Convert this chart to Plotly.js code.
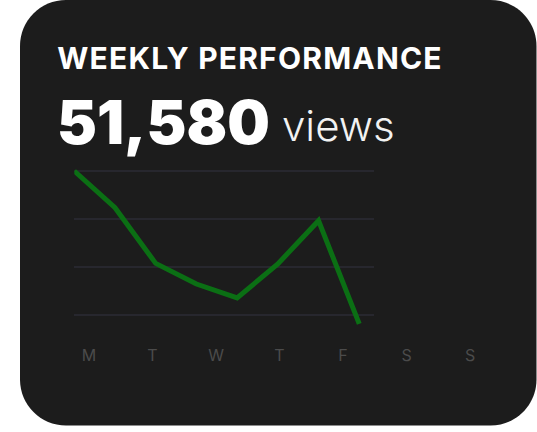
<!DOCTYPE html>
<html>
<head>
<meta charset="utf-8">
<script src="https://cdn.plot.ly/plotly-3.0.1.min.js"></script>
<style>
  html, body { margin: 0; padding: 0; background: #ffffff; }
  #chart { width: 537px; height: 432px; }
  #chart .annotation[data-index="0"] text { letter-spacing: 1.2px; }
</style>
</head>
<body>
<div id="chart"></div>
<script>
// ---- data ----
const titleText = "WEEKLY PERFORMANCE";
const totalViews = "51,580";
const unitText = "views";
const dayLabels = ["M", "T", "W", "T", "F", "S", "S"];
const viewsSeries = [8000, 6470, 4150, 3290, 2710, 4130, 5930, 1630];

// ---- geometry helpers (pixel -> paper) ----
const W = 537, H = 432;
const px = v => v / W;
const py = v => 1 - v / H;

function roundRect(x0, y0, x1, y1, r) {
  const k = 0.5523 * r;
  const X = v => px(v), Y = v => py(v);
  return [
    `M ${X(x0 + r)} ${Y(y0)}`,
    `L ${X(x1 - r)} ${Y(y0)}`,
    `C ${X(x1 - r + k)} ${Y(y0)} ${X(x1)} ${Y(y0 + r - k)} ${X(x1)} ${Y(y0 + r)}`,
    `L ${X(x1)} ${Y(y1 - r)}`,
    `C ${X(x1)} ${Y(y1 - r + k)} ${X(x1 - r + k)} ${Y(y1)} ${X(x1 - r)} ${Y(y1)}`,
    `L ${X(x0 + r)} ${Y(y1)}`,
    `C ${X(x0 + r - k)} ${Y(y1)} ${X(x0)} ${Y(y1 - r + k)} ${X(x0)} ${Y(y1 - r)}`,
    `L ${X(x0)} ${Y(y0 + r)}`,
    `C ${X(x0)} ${Y(y0 + r - k)} ${X(x0 + r - k)} ${Y(y0)} ${X(x0 + r)} ${Y(y0)}`,
    'Z'
  ].join(' ');
}

const lineTrace = {
  type: 'scatter',
  mode: 'lines',
  x: viewsSeries.map((_, i) => i),
  y: viewsSeries,
  line: { color: '#0b6f14', width: 5, shape: 'linear' },
  hoverinfo: 'skip',
  showlegend: false
};

const labelTrace = {
  type: 'scatter',
  mode: 'markers',
  x: dayLabels.map((_, i) => i),
  y: dayLabels.map(() => 0),
  xaxis: 'x2',
  yaxis: 'y2',
  marker: { opacity: 0 },
  hoverinfo: 'skip',
  showlegend: false
};

const layout = {
  width: W,
  height: H,
  margin: { l: 0, r: 0, t: 0, b: 0, pad: 0 },
  paper_bgcolor: '#ffffff',
  plot_bgcolor: 'rgba(0,0,0,0)',
  showlegend: false,
  font: { family: 'Inter, "Noto Sans", sans-serif', color: '#ffffff' },
  xaxis: {
    domain: [px(74.3), px(373.5)],
    range: [0, 7.35],
    visible: false,
    fixedrange: true
  },
  xaxis2: {
    domain: [px(57.25), px(501.75)],
    range: [-0.5, 6.5],
    anchor: 'y2',
    tickmode: 'array',
    tickvals: dayLabels.map((_, i) => i),
    ticktext: dayLabels,
    showgrid: false,
    zeroline: false,
    showline: false,
    ticks: '',
    tickfont: { family: 'Inter, sans-serif', size: 16, color: '#4b4b4b' },
    fixedrange: true
  },
  yaxis2: {
    domain: [py(344), py(343)],
    range: [-1, 1],
    visible: false,
    showgrid: false,
    fixedrange: true
  },
  yaxis: {
    domain: [py(339), py(147)],
    range: [1000, 9000],
    tick0: 0,
    dtick: 2000,
    showgrid: true,
    gridcolor: '#27272e',
    gridwidth: 1.5,
    zeroline: false,
    showline: false,
    showticklabels: false,
    ticks: '',
    fixedrange: true
  },
  shapes: [{
    type: 'path',
    xref: 'paper', yref: 'paper',
    path: roundRect(20, 0, 536.5, 425.5, 46),
    fillcolor: '#1c1c1c',
    line: { width: 0 },
    layer: 'below'
  }],
  annotations: [
    {
      text: titleText,
      xref: 'paper', yref: 'paper',
      x: px(66), y: py(58),
      xanchor: 'left', yanchor: 'middle',
      showarrow: false,
      font: { family: 'Inter, sans-serif', size: 30, weight: 700, color: '#ffffff' }
    },
    {
      text: totalViews,
      xref: 'paper', yref: 'paper',
      x: px(55), y: py(122),
      xanchor: 'left', yanchor: 'middle',
      showarrow: false,
      font: { family: 'Inter, sans-serif', size: 60, weight: 900, color: '#ffffff' }
    },
    {
      text: unitText,
      xref: 'paper', yref: 'paper',
      x: px(280), y: py(125),
      xanchor: 'left', yanchor: 'middle',
      showarrow: false,
      font: { family: 'Inter, sans-serif', size: 42, weight: 300, color: '#f2f2f2' }
    }
  ]
};

Plotly.newPlot('chart', [lineTrace, labelTrace], layout, { staticPlot: true, displayModeBar: false });
</script>
</body>
</html>
